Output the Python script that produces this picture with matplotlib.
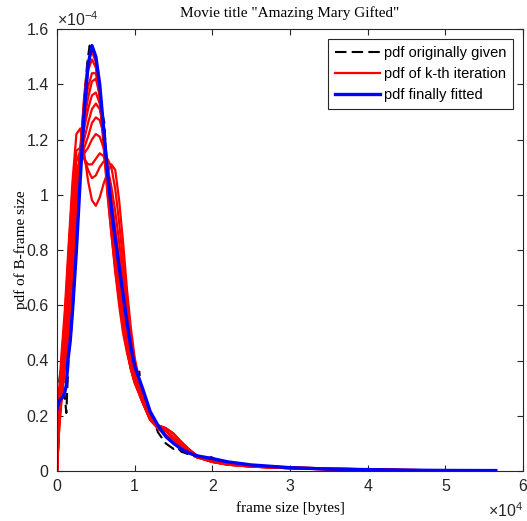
import matplotlib
matplotlib.use("Agg")
import matplotlib.pyplot as plt
import numpy as np

# frame sizes stored in kB (1e3 bytes), pdf values in units of 1e-4

# pdf originally given (black dashed)
x_given = [0, 0.3, 0.6, 0.9, 1.2, 1.5, 1.8, 2.1, 2.4, 2.7, 3.0, 3.3, 3.6, 3.9,
           4.2, 4.4, 4.6, 4.9, 5.2, 5.5, 5.8, 6.1, 6.4, 6.7, 7.0, 7.3, 7.6,
           7.9, 8.2, 8.5, 8.8, 9.1, 9.4, 9.7, 10.0, 10.3, 10.6, 10.8, 11.2,
           11.6, 12.0, 12.5, 13.0, 13.5, 14.0, 14.5, 15.0, 15.5, 16.0, 17.0,
           18.0, 19.0, 19.9, 20.5, 21.0, 22.0, 24.0, 26.0, 28.0, 30.0, 33.0,
           36.0, 40.0, 45.0, 50.0, 56.0]
y_given = [0.20, 0.33, 0.40, 0.30, 0.21, 0.42, 0.50, 0.62, 0.76, 0.92, 1.08,
           1.25, 1.38, 1.48, 1.54, 1.52, 1.53, 1.48, 1.45, 1.40, 1.30, 1.26,
           1.10, 1.00, 0.92, 0.85, 0.79, 0.73, 0.67, 0.61, 0.55, 0.49, 0.44,
           0.40, 0.36, 0.34, 0.36, 0.30, 0.27, 0.24, 0.21, 0.18, 0.14, 0.12,
           0.10, 0.09, 0.08, 0.085, 0.07, 0.06, 0.05, 0.045, 0.05, 0.04, 0.03,
           0.025, 0.02, 0.015, 0.012, 0.01, 0.008, 0.006, 0.004, 0.003, 0.002,
           0.001]

# pdf of k-th iteration (red): head on x 0..10, tail on x 11..56.5
x_iter = [0, 0.3, 0.6, 1.0, 1.5, 2.0, 2.5, 3.0, 3.5, 4.0, 4.5, 5.0, 5.5, 6.0,
          6.5, 7.0, 7.5, 8.0, 8.5, 9.0, 9.5, 10, 11, 12, 13, 14, 15, 16, 17,
          18, 20, 22, 25, 30, 35, 40, 45, 50, 56.5]
tail_a = [0.27, 0.19, 0.165, 0.155, 0.135, 0.105, 0.078, 0.056, 0.036, 0.026,
          0.019, 0.013, 0.009, 0.006, 0.004, 0.002, 0.001]
tail_b = [0.26, 0.19, 0.16, 0.145, 0.12, 0.095, 0.072, 0.053, 0.034, 0.024,
          0.017, 0.011, 0.007, 0.005, 0.003, 0.002, 0.001]
tail_c = [0.25, 0.185, 0.155, 0.13, 0.11, 0.088, 0.068, 0.05, 0.033, 0.023,
          0.016, 0.010, 0.006, 0.004, 0.003, 0.002, 0.001]
iter_1 = [0, 0.30, 0.43, 0.58, 0.82, 1.05, 1.22, 1.24, 1.15, 1.05, 0.98, 0.96,
          0.99, 1.04, 1.08, 1.11, 1.09, 0.98, 0.83, 0.66, 0.52, 0.41] + tail_a
iter_2 = [0, 0.28, 0.41, 0.55, 0.79, 1.02, 1.16, 1.17, 1.13, 1.09, 1.06, 1.07,
          1.10, 1.12, 1.13, 1.10, 1.02, 0.90, 0.76, 0.62, 0.49, 0.40] + tail_a
iter_3 = [0, 0.26, 0.38, 0.52, 0.75, 0.98, 1.12, 1.16, 1.13, 1.11, 1.11, 1.13,
          1.15, 1.14, 1.10, 1.03, 0.94, 0.83, 0.70, 0.58, 0.47, 0.38] + tail_a
iter_4 = [0, 0.24, 0.36, 0.50, 0.72, 0.95, 1.08, 1.13, 1.15, 1.17, 1.20, 1.22,
          1.21, 1.17, 1.08, 0.99, 0.88, 0.77, 0.65, 0.54, 0.45, 0.37] + tail_b
iter_5 = [0, 0.22, 0.34, 0.48, 0.70, 0.92, 1.06, 1.13, 1.17, 1.21, 1.26, 1.28,
          1.27, 1.22, 1.10, 0.97, 0.85, 0.73, 0.62, 0.52, 0.43, 0.36] + tail_b
iter_6 = [0, 0.21, 0.32, 0.46, 0.68, 0.90, 1.05, 1.14, 1.20, 1.26, 1.31, 1.33,
          1.31, 1.24, 1.11, 0.97, 0.84, 0.72, 0.61, 0.51, 0.43, 0.36] + tail_b
iter_7 = [0, 0.20, 0.31, 0.45, 0.66, 0.88, 1.04, 1.15, 1.24, 1.31, 1.36, 1.37,
          1.33, 1.23, 1.09, 0.95, 0.82, 0.70, 0.59, 0.50, 0.42, 0.35] + tail_b
iter_8 = [0, 0.19, 0.29, 0.43, 0.63, 0.84, 1.01, 1.15, 1.27, 1.35, 1.41, 1.42,
          1.36, 1.23, 1.07, 0.92, 0.79, 0.67, 0.56, 0.47, 0.40, 0.34] + tail_c
iter_9 = [0, 0.18, 0.28, 0.41, 0.60, 0.80, 0.99, 1.16, 1.30, 1.39, 1.44, 1.44,
          1.36, 1.20, 1.03, 0.88, 0.74, 0.62, 0.52, 0.44, 0.37, 0.32] + tail_c
iter_10 = [0, 0.17, 0.27, 0.39, 0.55, 0.74, 0.95, 1.17, 1.34, 1.45, 1.49,
           1.46, 1.36, 1.19, 1.01, 0.86, 0.72, 0.60, 0.50, 0.43, 0.37,
           0.32] + tail_c
iter_11 = [0, 0.16, 0.26, 0.37, 0.50, 0.66, 0.88, 1.14, 1.36, 1.48, 1.52,
           1.48, 1.36, 1.18, 1.00, 0.86, 0.73, 0.62, 0.52, 0.44, 0.37,
           0.32] + tail_c
iterations = [iter_1, iter_2, iter_3, iter_4, iter_5, iter_6, iter_7, iter_8,
              iter_9, iter_10, iter_11]

# pdf finally fitted (blue)
x_fit = [0, 0.3, 0.7, 1.0, 1.2, 1.4, 1.7, 2.0, 2.5, 3.0, 3.5, 4.0, 4.5, 5.0,
         5.5, 6.0, 6.5, 7.0, 7.5, 8.0, 8.5, 9.0, 9.5, 10.0, 11.0, 12.0, 13.0,
         14.0, 15.0, 16.0, 17.0, 18.0, 20.0, 22.0, 25.0, 30.0, 35.0, 40.0,
         45.0, 50.0, 56.5]
y_fit = [0.225, 0.255, 0.265, 0.285, 0.31, 0.40, 0.47, 0.58, 0.80, 1.06, 1.30,
         1.47, 1.54, 1.50, 1.40, 1.24, 1.08, 0.95, 0.84, 0.74, 0.64, 0.54,
         0.45, 0.38, 0.30, 0.215, 0.165, 0.125, 0.10, 0.08, 0.065, 0.055,
         0.045, 0.033, 0.022, 0.012, 0.007, 0.005, 0.003, 0.002, 0.0015]

legend_labels = ["pdf originally given", "pdf of k-th iteration",
                 "pdf finally fitted"]

plt.rcParams["mathtext.fontset"] = "custom"
plt.rcParams["mathtext.rm"] = "Liberation Sans"
plt.rcParams["mathtext.it"] = "Liberation Sans:italic"

axc = "#262626"
fig = plt.figure(figsize=(5.27, 5.21), dpi=100)
ax = fig.add_axes([57 / 527, 50 / 521, 466 / 527, 442 / 521])

kb = 1e3
p = 1e-4
h_given, = ax.plot(np.array(x_given) * kb, np.array(y_given) * p, color="k",
                   lw=1.5, dashes=(5.5, 2.5))
h_iter = None
for ys in iterations:
    h_iter, = ax.plot(np.array(x_iter) * kb, np.array(ys) * p, color="red",
                      lw=1.6)
h_fit, = ax.plot(np.array(x_fit) * kb, np.array(y_fit) * p, color="blue",
                 lw=2.4)

ax.set_xlim(0, 6e4)
ax.set_ylim(0, 1.6e-4)
ax.set_xticks(np.arange(0, 7) * 1e4)
ax.set_xticklabels([str(v) for v in range(7)])
yt = np.arange(0, 1.7, 0.2)
ax.set_yticks(yt * 1e-4)
ax.set_yticklabels(["0" if v == 0 else ("1" if abs(v - 1) < 1e-9 else f"{v:.1f}")
                    for v in yt])
ax.tick_params(direction="in", top=True, right=True, length=4, width=0.8,
               color=axc, labelcolor=axc, labelsize=11.5, pad=6)
for lab in ax.get_xticklabels() + ax.get_yticklabels():
    lab.set_family("Liberation Sans")
for s in ax.spines.values():
    s.set_color(axc)
    s.set_linewidth(0.8)

ax.text(0, 1.0, r"$\times10^{-4}$", transform=ax.transAxes, ha="left",
        va="bottom", fontsize=11.5, color=axc, family="Liberation Sans")
ax.text(1.0, -0.068, r"$\times10^{4}$", transform=ax.transAxes, ha="right",
        va="top", fontsize=11.5, color=axc, family="Liberation Sans")

ax.set_title('Movie title "Amazing Mary Gifted"', family="Liberation Serif",
             fontsize=11, pad=9)
ax.set_xlabel("frame size [bytes]", family="Liberation Serif", fontsize=11,
              labelpad=5)
ax.set_ylabel("pdf of B-frame size", family="Liberation Serif", fontsize=11,
              labelpad=-1)

leg = ax.legend([h_given, h_iter, h_fit], legend_labels, loc="upper right",
                prop={"family": "Liberation Sans", "size": 10.5},
                fancybox=False, framealpha=1, edgecolor=axc, handlelength=3.1,
                borderaxespad=0.7, handletextpad=0.25, labelspacing=0.5,
                borderpad=0.45)
leg.get_frame().set_linewidth(0.8)

fig.savefig("out.png", dpi=100)
